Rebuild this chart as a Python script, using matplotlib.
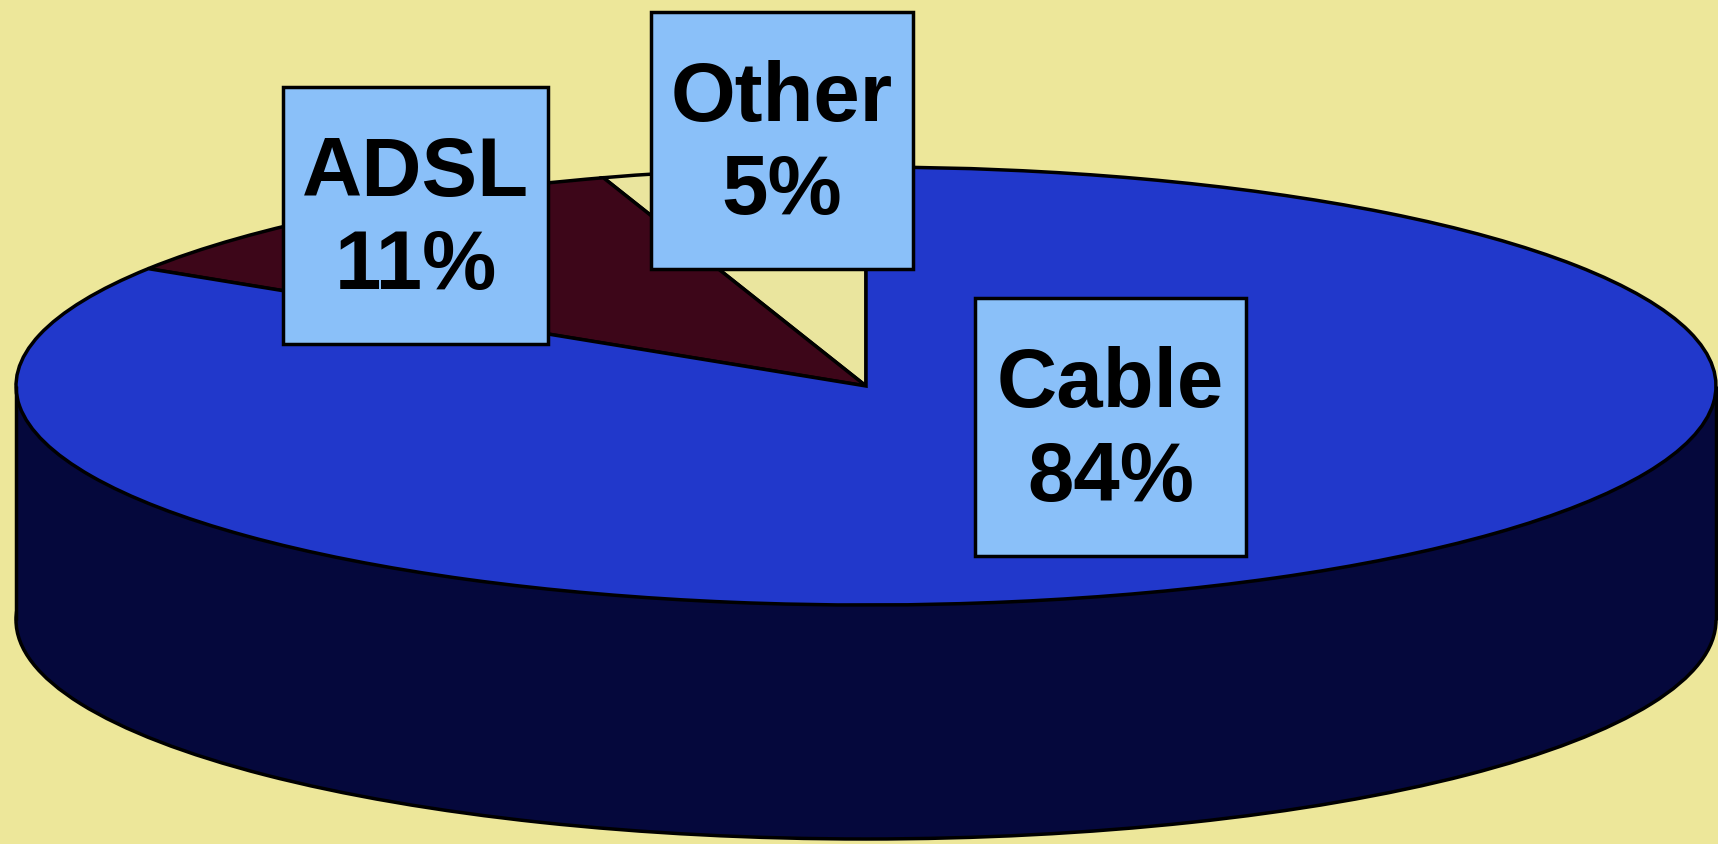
import numpy as np
import matplotlib.pyplot as plt
from matplotlib.patches import Rectangle

# data: slices in drawing order (counter-clockwise from 12 o'clock)
labels = ['Other', 'ADSL', 'Cable']
shares = [5, 11, 84]

top_colors = ['#EAE59E', '#3D0619', '#2138CB']
side_color = '#05083C'
bg = '#EDE79A'
box_color = '#8AC0F9'

W, H = 1718, 845
cx, cy = 866, 387      # pie centre in pixels
rx, ry = 850, 219      # ellipse semi-axes in pixels
depth = 234            # height of the cylinder side in pixels

# label boxes (left, top, width, height) in pixels
boxes = [(651, 13, 262, 257), (283, 88, 265, 257), (975, 299, 271, 258)]

fig = plt.figure(figsize=(W / 100, H / 100), dpi=100, facecolor=bg)
ax = fig.add_axes([0, 0, 1, 1])

d = depth / ry
edge = dict(edgecolor='black', linewidth=2.5)

# bottom of the cylinder (one full ellipse, only its lower arc shows)
ax.pie([sum(shares)], colors=[side_color], startangle=90,
       center=(0, -d), wedgeprops=edge)
ax.add_patch(Rectangle((-1, -d), 2, d, facecolor=side_color, edgecolor='none'))
ax.plot([-1, -1], [-d, 0], color='black', lw=2.5, solid_capstyle='butt')
ax.plot([1, 1], [-d, 0], color='black', lw=2.5, solid_capstyle='butt')

# top face
ax.pie(shares, colors=top_colors, startangle=90, wedgeprops=edge)

ax.set_aspect('auto')
ax.set_xlim(-cx / rx, (W - cx) / rx)
ax.set_ylim(-(H - cy) / ry, cy / ry)
ax.axis('off')

# labels on top, in pixel coordinates
ax2 = fig.add_axes([0, 0, 1, 1])
ax2.set_xlim(0, W)
ax2.set_ylim(H, 0)
ax2.axis('off')
for (x, y, w, h), lab, s in zip(boxes, labels, shares):
    ax2.add_patch(Rectangle((x, y), w, h, facecolor=box_color,
                            edgecolor='black', linewidth=2.5))
    ax2.text(x + w / 2, y + h / 2 + 4, f'{lab}\n{s}%', ha='center', va='center',
             fontsize=60, fontweight='bold', family='Liberation Sans',
             linespacing=1.25)

fig.savefig('out.png', dpi=100, facecolor=bg)
